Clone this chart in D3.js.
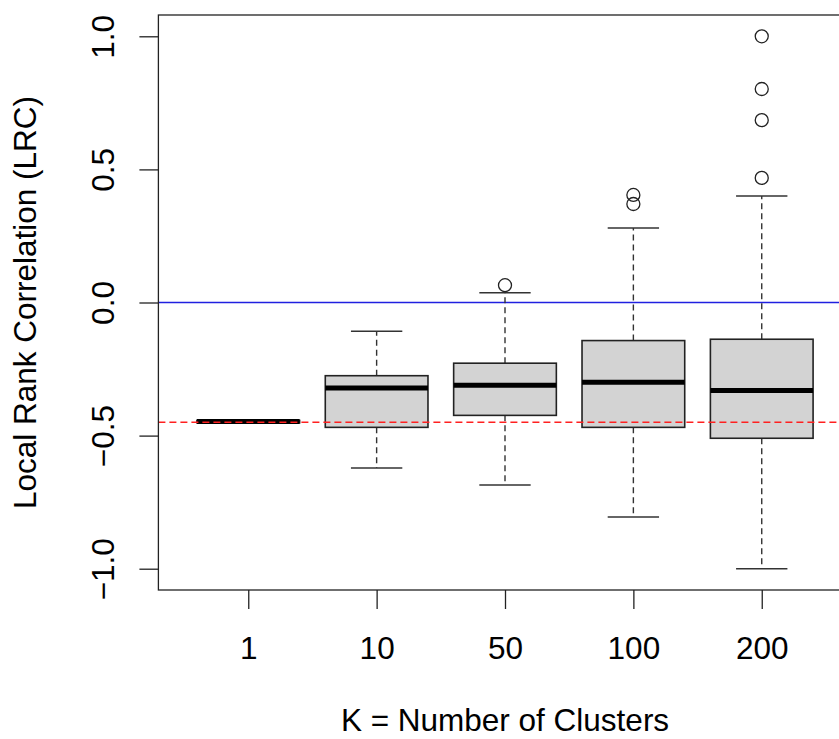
<!DOCTYPE html>
<html>
<head>
<meta charset="utf-8">
<script src="https://cdn.jsdelivr.net/npm/d3@7"></script>
<style>
  body { margin: 0; background: #fff; }
  svg { display: block; font-family: 'Liberation Sans', Arial, sans-serif; }
</style>
</head>
<body>
<svg id="chart" width="839" height="739"></svg>
<script>
const groups = ['1', '10', '50', '100', '200']
const lowerWhisker = [-0.45, -0.622, -0.686, -0.806, -1.0]
const q1 = [-0.452, -0.469, -0.424, -0.469, -0.51]
const medians = [-0.447, -0.321, -0.311, -0.3, -0.331]
const q3 = [-0.443, -0.275, -0.228, -0.143, -0.138]
const upperWhisker = [-0.45, -0.108, 0.037, 0.28, 0.4]
const outliers = [[], [], [0.065], [0.404, 0.37], [1.0, 0.802, 0.685, 0.468]]
const yTicks = [-1.0, -0.5, 0.0, 0.5, 1.0]
const refLine = 0
const baseline = -0.45

const svg = d3.select('#chart')
const FONT = 31.5

// R style plot region: xlim 0.3..5.7, ylim -1.08..1.08
const x = d3.scaleLinear().domain([0.3, 5.7]).range([158.4, 851.6])
const y = d3.scaleLinear().domain([-1.08, 1.08]).range([590, 15])

const boxW = x(1.8) - x(1)
const capW = boxW / 2

const stats = groups.map((g, i) => ({
  g, pos: i + 1,
  lo: lowerWhisker[i], q1: q1[i], med: medians[i], q3: q3[i], hi: upperWhisker[i],
  out: outliers[i]
}))

const plot = svg.append('g')

// zero line
plot.append('line')
  .attr('x1', x(0.3)).attr('x2', x(5.7))
  .attr('y1', y(refLine)).attr('y2', y(refLine))
  .attr('stroke', '#2020e0').attr('stroke-width', 1.3)

const box = plot.selectAll('g.box').data(stats).enter().append('g')

// whiskers
box.filter(d => d.pos > 1).append('line')
  .attr('x1', d => x(d.pos)).attr('x2', d => x(d.pos))
  .attr('y1', d => y(d.q3)).attr('y2', d => y(d.hi))
  .attr('stroke', '#333').attr('stroke-width', 1.4).attr('stroke-dasharray', '6,4')
box.filter(d => d.pos > 1).append('line')
  .attr('x1', d => x(d.pos)).attr('x2', d => x(d.pos))
  .attr('y1', d => y(d.q1)).attr('y2', d => y(d.lo))
  .attr('stroke', '#333').attr('stroke-width', 1.4).attr('stroke-dasharray', '6,4')

// caps
box.filter(d => d.pos > 1).append('line')
  .attr('x1', d => x(d.pos) - capW / 2).attr('x2', d => x(d.pos) + capW / 2)
  .attr('y1', d => y(d.hi)).attr('y2', d => y(d.hi))
  .attr('stroke', '#333').attr('stroke-width', 1.5)
box.filter(d => d.pos > 1).append('line')
  .attr('x1', d => x(d.pos) - capW / 2).attr('x2', d => x(d.pos) + capW / 2)
  .attr('y1', d => y(d.lo)).attr('y2', d => y(d.lo))
  .attr('stroke', '#333').attr('stroke-width', 1.5)

// boxes
box.append('rect')
  .attr('x', d => x(d.pos) - boxW / 2)
  .attr('width', boxW)
  .attr('y', d => y(d.q3))
  .attr('height', d => y(d.q1) - y(d.q3))
  .attr('fill', '#d3d3d3').attr('stroke', '#222').attr('stroke-width', 1.6)

// medians
box.append('line')
  .attr('x1', d => x(d.pos) - boxW / 2).attr('x2', d => x(d.pos) + boxW / 2)
  .attr('y1', d => y(d.med)).attr('y2', d => y(d.med))
  .attr('stroke', '#000').attr('stroke-width', 5)

// outliers
box.selectAll('circle').data(d => d.out.map(v => ({ pos: d.pos, v }))).enter()
  .append('circle')
  .attr('cx', d => x(d.pos)).attr('cy', d => y(d.v)).attr('r', 6.5)
  .attr('fill', 'none').attr('stroke', '#222').attr('stroke-width', 1.3)

// reference (K = 1) line
plot.append('line')
  .attr('x1', x(0.3)).attr('x2', x(5.7))
  .attr('y1', y(baseline)).attr('y2', y(baseline))
  .attr('stroke', '#ff2020').attr('stroke-width', 1.4).attr('stroke-dasharray', '7,4')

// frame
svg.append('rect')
  .attr('x', x(0.3)).attr('y', y(1.08))
  .attr('width', x(5.7) - x(0.3)).attr('height', y(-1.08) - y(1.08))
  .attr('fill', 'none').attr('stroke', '#222').attr('stroke-width', 1.3)

// axes
const yAxis = svg.append('g').attr('transform', `translate(${x(0.3)},0)`)
  .call(d3.axisLeft(y).tickValues(yTicks).tickFormat(d3.format('.1f')).tickSize(19))
yAxis.select('.domain').remove()
yAxis.selectAll('line').attr('stroke', '#222').attr('stroke-width', 1.3)
yAxis.selectAll('text')
  .attr('x', 0).attr('y', 0).attr('dy', '0.35em')
  .attr('transform', `translate(${103 - x(0.3)},0) rotate(-90)`)
  .style('text-anchor', 'middle')

const xAxis = svg.append('g').attr('transform', `translate(0,${y(-1.08)})`)
  .call(d3.axisBottom(x).tickValues(groups.map((g, i) => i + 1))
    .tickFormat((d, i) => groups[i]).tickSize(19).tickPadding(28))
xAxis.select('.domain').remove()
xAxis.selectAll('line').attr('stroke', '#222').attr('stroke-width', 1.3)

svg.selectAll('.tick text').attr('font-size', FONT).attr('fill', '#000')
  .attr('font-family', "'Liberation Sans', Arial, sans-serif")

svg.append('text')
  .attr('x', x(3)).attr('y', 731)
  .attr('text-anchor', 'middle').attr('font-size', FONT)
  .text('K = Number of Clusters')

svg.append('text')
  .attr('transform', `translate(25,${y(0)}) rotate(-90)`)
  .attr('dy', '0.35em')
  .attr('text-anchor', 'middle').attr('font-size', FONT)
  .text('Local Rank Correlation (LRC)')
</script>
</body>
</html>
